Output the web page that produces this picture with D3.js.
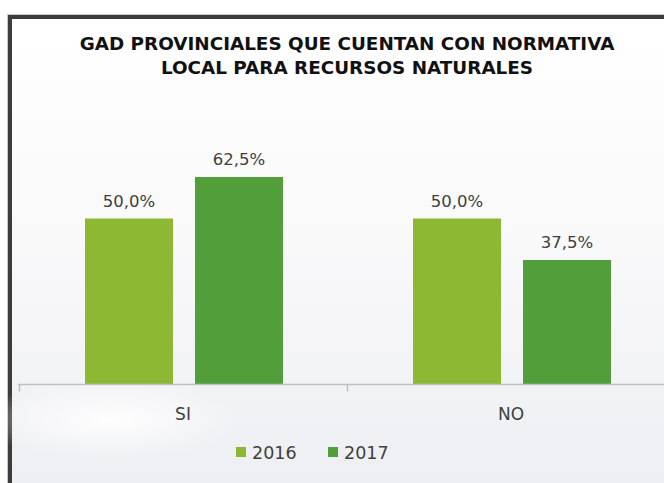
<!DOCTYPE html>
<html><head><meta charset="utf-8">
<script src="https://cdn.jsdelivr.net/npm/d3@7"></script>
<style>html,body{margin:0;padding:0;background:#fff;}svg{display:block;}</style>
</head><body>
<svg id="c" width="664" height="483"></svg>
<script>
const titleLines = ["GAD PROVINCIALES QUE CUENTAN CON NORMATIVA", "LOCAL PARA RECURSOS NATURALES"];
const categories = ["SI", "NO"];
const seriesNames = ["2016", "2017"];
const values2016 = [50.0, 50.0];
const values2017 = [62.5, 37.5];
const colors = ["#8cb833", "#519e3a"];

const svg = d3.select("#c");
const W = 664, H = 483;
const defs = svg.append("defs");
const g1 = defs.append("linearGradient").attr("id","bg").attr("x1",0).attr("y1",0).attr("x2",0).attr("y2",1);
g1.append("stop").attr("offset","0%").attr("stop-color","#ffffff");
g1.append("stop").attr("offset","45%").attr("stop-color","#f9f9fa");
g1.append("stop").attr("offset","100%").attr("stop-color","#eceef1");
const rg = defs.append("radialGradient").attr("id","glow");
rg.append("stop").attr("offset","0%").attr("stop-color","#ffffff").attr("stop-opacity",0.9);
rg.append("stop").attr("offset","100%").attr("stop-color","#ffffff").attr("stop-opacity",0);

// frame
svg.append("rect").attr("x",7).attr("y",14).attr("width",W).attr("height",H).attr("fill","#c8c8c8");
svg.append("rect").attr("x",8).attr("y",15).attr("width",W).attr("height",H).attr("fill","#3c3c3c");
svg.append("rect").attr("x",12).attr("y",19).attr("width",W).attr("height",H).attr("fill","url(#bg)");
svg.append("ellipse").attr("cx",110).attr("cy",420).attr("rx",130).attr("ry",40).attr("fill","url(#glow)");

// scales
const x0 = d3.scaleBand().domain(categories).range([19, 675]);
const y = d3.scaleLinear().domain([0, 100]).range([384.5, 52.5]);
const x1 = d3.scaleBand().domain(seriesNames).range([66, 264]).paddingInner(0.2);

const data = categories.map((c,i)=>({cat:c, vals:[values2016[i], values2017[i]]}));

// bars
const grp = svg.append("g").selectAll("g").data(data).join("g")
  .attr("transform", d=>`translate(${x0(d.cat)},0)`);
grp.selectAll("rect").data(d=>d.vals.map((v,j)=>({v, s:seriesNames[j], j})))
  .join("rect")
  .attr("x", d=>x1(d.s)).attr("width", x1.bandwidth())
  .attr("y", d=>y(d.v)).attr("height", d=>y(0)-y(d.v))
  .attr("fill", d=>colors[d.j]);
grp.selectAll("text").data(d=>d.vals.map((v,j)=>({v, s:seriesNames[j], j})))
  .join("text")
  .attr("x", d=>x1(d.s)+x1.bandwidth()/2).attr("y", d=>y(d.v)-12)
  .attr("text-anchor","middle")
  .attr("font-family","'DejaVu Sans', sans-serif").attr("font-size",16.5)
  .attr("fill","#404040")
  .text(d=>d3.format(".1f")(d.v).replace(".", ",")+"%");

// x axis
const ax = svg.append("g").attr("transform","translate(0,384.5)")
  .call(d3.axisBottom(x0).tickSize(0).tickValues([]));
ax.select(".domain").remove();
ax.append("line").attr("x1",18).attr("x2",W).attr("stroke","#bfbfbf").attr("stroke-width",1.5);
const bounds = [x0.range()[0], x0(categories[1])];
ax.selectAll("line.tk").data(bounds).join("line").attr("class","tk")
  .attr("x1",d=>d+0.5).attr("x2",d=>d+0.5).attr("y1",0).attr("y2",7)
  .attr("stroke","#bfbfbf").attr("stroke-width",1.5);
ax.selectAll("text.cat").data(categories).join("text").attr("class","cat")
  .attr("x", d=>x0(d)+x0.bandwidth()/2).attr("y", 35)
  .attr("text-anchor","middle")
  .attr("font-family","'DejaVu Sans', sans-serif").attr("font-size",17)
  .attr("fill","#404040").text(d=>d);

// title
const tY = [50, 74];
const titles = svg.selectAll("text.title").data(titleLines).join("text").attr("class","title")
  .attr("x",347).attr("y",(d,i)=>tY[i])
  .attr("text-anchor","middle")
  .attr("font-family","'DejaVu Sans', sans-serif").attr("font-weight","bold")
  .attr("font-size",15).attr("fill","#111")
  .text(d=>d);
const w0 = titles.node().getComputedTextLength();
if (w0 > 0) titles.attr("font-size", 15*Math.min(1.5, 535/w0));

// legend
const legX = [236, 328];
const lg = svg.selectAll("g.leg").data(seriesNames).join("g").attr("class","leg")
  .attr("transform",(d,i)=>`translate(${legX[i]},447)`);
lg.append("rect").attr("width",10).attr("height",10).attr("fill",(d,i)=>colors[i]);
lg.append("text").attr("x",16).attr("y",11.5).attr("font-family","'DejaVu Sans', sans-serif")
  .attr("font-size",17.5).attr("fill","#404040").text(d=>d);
</script>
</body></html>
